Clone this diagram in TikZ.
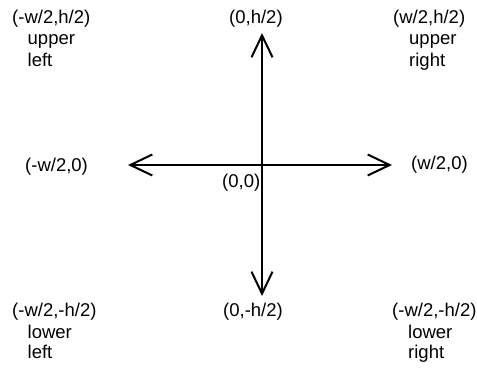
\documentclass[tikz,border=0pt]{standalone}
\usepackage{fontspec}
\setmainfont{Liberation Sans}
\usetikzlibrary{arrows.meta}
\begin{document}
\begin{tikzpicture}[x=1pt,y=-1pt,
  lbl/.style={anchor=base west,inner sep=0pt,font=\fontsize{18.5}{22}\selectfont},
  barb/.tip={Straight Barb[length=22pt,width=21pt,line width=2pt]},
  axis/.style={line width=2pt,barb-barb}]
  \useasboundingbox (0,0) rectangle (477,374);
  % axis end points
  \coordinate (top) at (262,33);
  \coordinate (bot) at (262,296);
  \coordinate (lft) at (128,165);
  \coordinate (rgt) at (392,165);
  \draw[axis] (lft) -- (rgt);
  \draw[axis] (top) -- (bot);
  % upper row
  \node[lbl] (ulc) at (12,24) {(-w/2,h/2)};
  \node[lbl] (ul1) at (27.5,45) {upper};
  \node[lbl] (ul2) at (27.5,67) {left};
  \node[lbl] (uc) at (229,24) {(0,h/2)};
  \node[lbl] (urc) at (393,24) {(w/2,h/2)};
  \node[lbl] (ur1) at (409,45) {upper};
  \node[lbl] (ur2) at (409,67) {right};
  % middle row
  \node[lbl] (ml) at (25,172) {(-w/2,0)};
  \node[lbl] (mr) at (411,170) {(w/2,0)};
  \node[lbl] (mo) at (222,188) {(0,0)};
  % lower row
  \node[lbl] (llc) at (12,317) {(-w/2,-h/2)};
  \node[lbl] (ll1) at (27.5,338) {lower};
  \node[lbl] (ll2) at (27.5,359) {left};
  \node[lbl] (lc) at (223,317) {(0,-h/2)};
  \node[lbl] (lrc) at (392,317) {(-w/2,-h/2)};
  \node[lbl] (lr1) at (408,338) {lower};
  \node[lbl] (lr2) at (408,359) {right};
\end{tikzpicture}
\end{document}
